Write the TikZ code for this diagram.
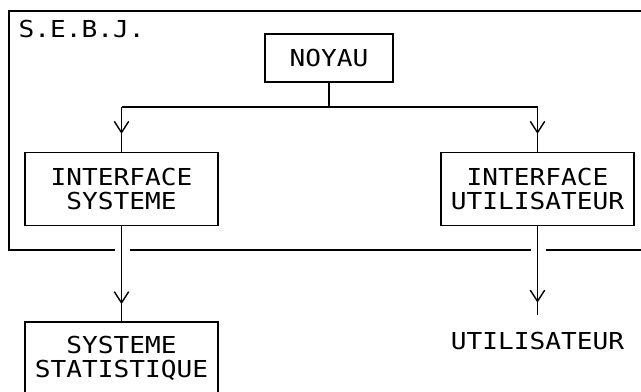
\documentclass[tikz,border=0pt]{standalone}
\usepackage{fontspec}
\newfontfamily\plotfont[FakeStretch=1.12]{DejaVu Sans Mono}
\usetikzlibrary{arrows.meta,decorations.markings}

\begin{document}
\begin{tikzpicture}[x=0.025cm, y=-0.025cm, line width=1pt,
  txt/.style={font=\plotfont\fontsize{16.6}{17}\selectfont},
  box/.style={txt, draw, align=center, inner sep=0pt},
  tipat/.style={postaction={decorate}, decoration={markings,
    mark=at position #1 with {\arrow{Straight Barb[length=0.28cm,width=0.36cm]}}}}]
  \useasboundingbox (0,0) rectangle (641,392);

  \node[box, minimum width=3.2cm, minimum height=1.2cm] (noyau) at (329,58) {NOYAU};
  \node[box, minimum width=4.825cm, minimum height=1.825cm] (isys) at (121.5,189) {INTERFACE\\SYSTEME};
  \node[box, minimum width=4.825cm, minimum height=1.825cm] (iutil) at (537.5,189) {INTERFACE\\UTILISATEUR};
  \node[box, minimum width=4.825cm, minimum height=1.825cm] (stat) at (121.5,358.5) {SYSTEME\\STATISTIQUE};
  \node[txt, anchor=base, inner ysep=12pt] (util) at (537.5,350) {UTILISATEUR};
  \node[txt, anchor=base west, inner sep=0pt] (sebj) at (18,38) {S.E.B.J.};

  % frame of S.E.B.J.
  \coordinate (busY) at (0,107);
  \coordinate (frameTR) at (660,11);
  \coordinate (frameTL) at (9,11);
  \coordinate (frameBL) at (9,250);
  \coordinate (frameBR) at (660,250);
  \draw (frameTR) -- (frameTL) -- (frameBL) -- ([xshift=-0.15cm]isys.south |- frameBL);
  \draw ([xshift=0.2cm]isys.south |- frameBL) -- ([xshift=-0.15cm]iutil.south |- frameBL);
  \draw ([xshift=0.2cm]iutil.south |- frameBL) -- (frameBR);

  \draw (noyau.south) -- (noyau.south |- busY);
  \draw (isys.north |- busY) -- (iutil.north |- busY);
  \draw[tipat=0.6] (isys.north |- busY) -- (isys.north);
  \draw[tipat=0.6] (iutil.north |- busY) -- (iutil.north);
  \draw[tipat=0.82] (isys) -- (stat);
  \draw[tipat=0.86] (iutil) -- (util);
\end{tikzpicture}
\end{document}
